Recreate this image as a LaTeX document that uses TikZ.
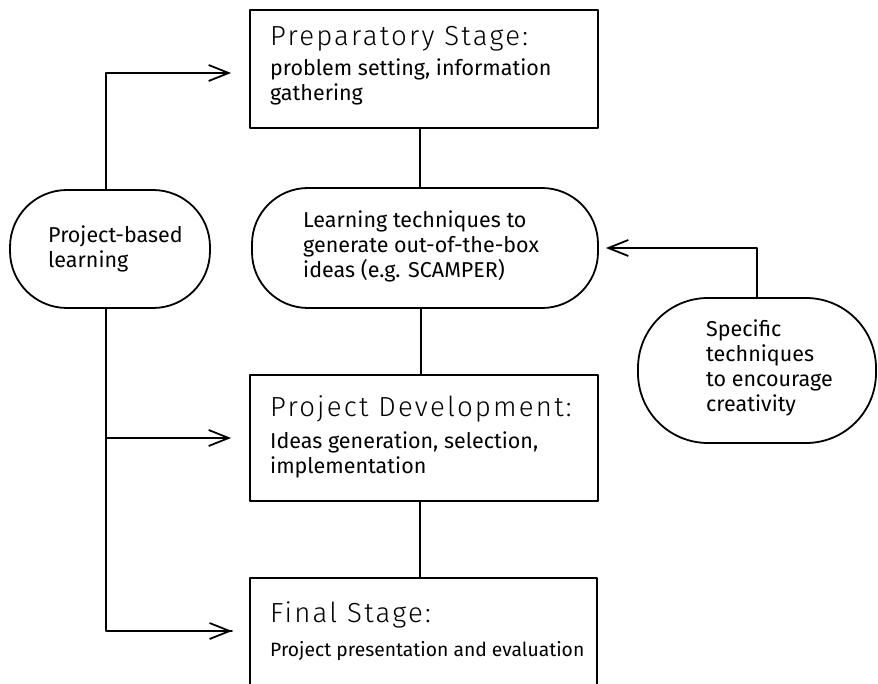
\documentclass[tikz,border=0pt]{standalone}
\usepackage{fontspec}
\setmainfont{Fira Sans}
\newfontfamily\headfont[LetterSpace=8]{Fira Sans Light}
\usetikzlibrary{arrows.meta}

\tikzset{
  ln/.style={line width=1.8pt, line join=round, line cap=round},
  stagebox/.style={ln, draw, rectangle, inner sep=0pt},
  bubble/.style={ln, draw, rectangle, inner sep=0pt},
  head/.style={anchor=base west, inner sep=0pt, font={\headfont\fontsize{27.6}{30}\selectfont}},
  body/.style={anchor=base west, inner sep=0pt, font={\fontsize{21.5}{25}\selectfont}},
  arr/.style={ln, -{Straight Barb[length=20pt,width=16pt,line width=1.8pt]}},
}
% stacked lines whose baseline is that of the first line
\newcommand\stack[1]{\vtop{\baselineskip=25pt\lineskiplimit=-20pt #1}}

\begin{document}
\begin{tikzpicture}[x=1pt,y=-1pt]
  \clip (0,0) rectangle (878,684);
  \fill[white] (0,0) rectangle (878,684);

  % stage boxes
  \node[stagebox, minimum width=348pt, minimum height=118pt] (prep) at (424,69) {};
  \node[stagebox, minimum width=348pt, minimum height=126pt] (dev) at (424,438) {};
  \node[stagebox, minimum width=347pt, minimum height=140pt] (final) at (423.5,648) {};

  % rounded bubbles
  \node[bubble, rounded corners=56pt, minimum width=346pt, minimum height=120pt] (learn) at (425,248) {};
  \node[bubble, rounded corners=57pt, minimum width=200pt, minimum height=118pt] (pbl) at (110,249) {};
  \node[bubble, rounded corners=70pt, minimum width=238pt, minimum height=145pt] (spec) at (757,370.5) {};

  % texts
  \node[head] (prepH) at (270,46) {Preparatory Stage:};
  \node[body] (prepB) at (270,76) {\stack{\hbox{problem setting, information}\hbox{gathering}}};
  \node[body] (learnT) at (303,228) {\stack{\hbox{Learning techniques to}\hbox{generate out-of-the-box}\hbox{ideas (e.g. SCAMPER)}}};
  \node[body] (pblT) at (48,243) {\stack{\hbox{Project-based}\hbox{learning}}};
  \node[body] (specT) at (706,337) {\stack{\hbox{Specific}\hbox{techniques}\hbox{to encourage}\hbox{creativity}}};
  \node[head] (devH) at (270,416) {Project Development:};
  \node[body] (devB) at (270,448) {\stack{\hbox{Ideas generation, selection,}\hbox{implementation}}};
  \node[head] (finalH) at (270,622) {Final Stage:};
  \node[body, font={\fontsize{19.3}{25}\selectfont}] (finalB) at (270,656) {Project presentation and evaluation};

  % main flow, a little left of the box centres
  \draw[ln] ([xshift=-4pt]prep.south) -- ([xshift=-4pt]prep.south |- learn.north);
  \draw[ln] ([xshift=-4pt]learn.south) -- ([xshift=-4pt]learn.south |- dev.north);
  \draw[ln] ([xshift=-4pt]dev.south) -- ([xshift=-4pt]dev.south |- final.north);

  % project-based learning feeds every stage
  \coordinate (finalIn) at (232,631);
  \draw[arr, shorten >=18pt] ([xshift=-4pt]pbl.north) |- ([yshift=-4pt]prep.west);
  \draw[ln] ([xshift=-4pt]pbl.south) |- (finalIn);
  \draw[arr] ([xshift=-1pt]finalIn) -- (finalIn);
  \draw[arr, shorten >=18pt] ([xshift=-4pt]pbl.south |- dev.west) -- (dev.west);

  % specific techniques support the learning stage
  \draw[arr, shorten >=7pt] (spec.north) |- (learn.east);
\end{tikzpicture}
\end{document}
